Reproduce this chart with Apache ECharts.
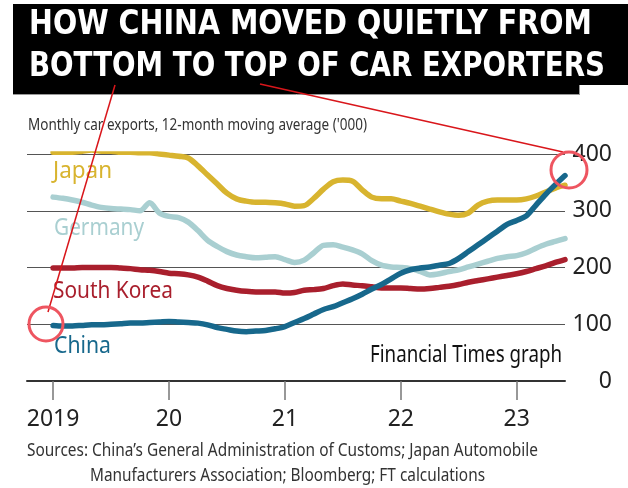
<!DOCTYPE html>
<html lang="en">
<head>
    <meta charset="UTF-8">
    <title>China car exports</title>
    <script src="https://cdn.jsdelivr.net/npm/echarts@6/dist/echarts.min.js"></script>
</head>
<body style="margin:0;background:#fff;">
<div id="main" style="width: 628px;height:488px;"></div>
</body>
<script type="text/javascript">
    // monthly values, Jan 2019 .. Jun 2023 ('000 cars, 12-month moving average)
    var japan = [403, 403, 403, 405, 407, 405, 405, 403, 403, 402, 402, 400,
        398, 396, 393, 379, 363, 347, 331, 321, 317, 315, 315, 314,
        312, 308, 309, 322, 338, 351, 354, 352, 337, 324, 321, 321,
        317, 313, 308, 303, 298, 294, 292, 296, 310, 317, 319, 319,
        319, 321, 326, 333, 340, 345];
    var germany = [324, 322, 319, 315, 310, 306, 304, 303, 302, 300, 314, 296,
        290, 288, 280, 265, 248, 237, 228, 222, 219, 217, 218, 219,
        214, 209, 213, 226, 239, 240, 236, 231, 224, 212, 204, 201,
        200, 198, 193, 187, 189, 193, 196, 201, 206, 211, 216, 219,
        221, 226, 234, 241, 246, 251];
    var southKorea = [199, 199, 199, 200, 200, 200, 200, 199, 198, 196, 195, 193,
        190, 189, 187, 183, 176, 168, 163, 160, 158, 157, 157, 157,
        155, 156, 160, 161, 163, 168, 171, 169, 168, 166, 164, 164,
        164, 163, 162, 163, 165, 167, 170, 174, 177, 180, 183, 186,
        189, 193, 198, 203, 209, 214];
    var china = [98, 97, 97, 98, 99, 99, 100, 101, 102, 102, 103, 104,
        105, 104, 103, 102, 99, 94, 91, 88, 87, 88, 89, 92,
        96, 103, 110, 118, 126, 131, 138, 145, 153, 162, 170, 180,
        190, 196, 199, 201, 204, 207, 216, 228, 240, 252, 264, 276,
        283, 291, 310, 329, 346, 362];

    // x tick labels sit on each January (month index 0, 12, 24 ...)
    var yearTicks = [0, 12, 24, 36, 48];
    var yearLabels = ['2019', '20', '21', '22', '23'];

    var seriesNames = ['Japan', 'Germany', 'South Korea', 'China'];
    var seriesColors = ['#d8b42f', '#a9cfd1', '#a91f2d', '#17688c'];
    var seriesData = [japan, germany, southKorea, china];

    var bodyFont = '"Noto Sans", "Open Sans", sans-serif';
    var titleFont = '"DejaVu Sans Condensed", "DejaVu Sans", sans-serif';

    function toPoints(arr) {
        return arr.map(function (v, i) { return [i, v]; });
    }

    // squeeze text horizontally so it fills the same width as in the picture
    var measureCtx = document.createElement('canvas').getContext('2d');
    function fitText(text, font, x, y, width, fill) {
        measureCtx.font = font;
        var w = measureCtx.measureText(text).width;
        return {
            type: 'text', x: x, y: y, scaleX: width / w, z: 10,
            style: { text: text, font: font, fill: fill, textVerticalAlign: 'middle' }
        };
    }

    var myChart = echarts.init(document.getElementById('main'));

    var option = {
        backgroundColor: '#fff',
        animation: false,
        grid: { left: 27, right: 63, top: 154, bottom: 107 },
        xAxis: {
            type: 'value',
            min: -2.7,
            max: 53,
            splitLine: { show: false },
            axisLine: { show: true, lineStyle: { color: '#333', width: 2 } },
            axisTick: {
                show: true, customValues: yearTicks, length: 19,
                lineStyle: { color: '#777', width: 1.5 }
            },
            axisLabel: {
                customValues: yearTicks,
                margin: 27,
                color: '#222',
                fontFamily: bodyFont,
                fontSize: 23,
                formatter: function (v) {
                    return yearLabels[yearTicks.indexOf(v)];
                }
            }
        },
        yAxis: {
            type: 'value',
            position: 'right',
            min: 0,
            max: 400,
            interval: 100,
            axisLine: { show: false },
            axisTick: { show: false },
            splitLine: { lineStyle: { color: '#555', width: 1 } },
            axisLabel: {
                align: 'right',
                margin: 47,
                color: '#222',
                fontFamily: bodyFont,
                fontSize: 23
            }
        },
        series: seriesNames.map(function (name, k) {
            return {
                name: name,
                type: 'line',
                data: toPoints(seriesData[k]),
                smooth: 0.3,
                showSymbol: false,
                lineStyle: { color: seriesColors[k], width: 5.5, cap: 'round' },
                z: k + 2
            };
        }),
        graphic: [
            // title block
            { type: 'rect', shape: { x: 13, y: 4, width: 615, height: 81 }, style: { fill: '#000' } },
            { type: 'rect', shape: { x: 13, y: 80, width: 566, height: 14 }, style: { fill: '#000' } },
            { type: 'line', shape: { x1: 13, y1: 94.5, x2: 580, y2: 94.5 }, style: { stroke: '#999', lineWidth: 1 } },
            { type: 'line', shape: { x1: 579.5, y1: 85, x2: 579.5, y2: 95 }, style: { stroke: '#999', lineWidth: 1 } },
            fitText('HOW CHINA MOVED QUIETLY FROM', 'bold 33px ' + titleFont, 29, 25, 563, '#fff'),
            fitText('BOTTOM TO TOP OF CAR EXPORTERS', 'bold 33px ' + titleFont, 29, 67, 576, '#fff'),
            // subtitle
            fitText("Monthly car exports, 12-month moving average ('000)", '15.5px ' + bodyFont, 28, 125.5, 339, '#333'),
            // series labels
            fitText('Japan', '24px ' + bodyFont, 53, 171, 59, seriesColors[0]),
            fitText('Germany', '24px ' + bodyFont, 54, 228, 90, seriesColors[1]),
            fitText('South Korea', '24px ' + bodyFont, 53, 291, 120, seriesColors[2]),
            fitText('China', '24px ' + bodyFont, 54, 346, 57, seriesColors[3]),
            // credit
            fitText('Financial Times graph', '23px ' + bodyFont, 370, 355, 192, '#111'),
            // sources
            fitText('Sources: China’s General Administration of Customs; Japan Automobile', '18.5px ' + bodyFont, 27, 451, 511, '#333'),
            fitText('Manufacturers Association; Bloomberg; FT calculations', '18.5px ' + bodyFont, 90, 475.5, 395, '#333'),
            // red annotations
            { type: 'line', shape: { x1: 115, y1: 85, x2: 48, y2: 312 }, style: { stroke: '#d9161b', lineWidth: 1.5 }, z: 20 },
            { type: 'line', shape: { x1: 260, y1: 84, x2: 563, y2: 152 }, style: { stroke: '#d9161b', lineWidth: 1.5 }, z: 20 },
            { type: 'circle', shape: { cx: 46, cy: 324, r: 17 }, style: { fill: 'none', stroke: '#ee5560', lineWidth: 3 }, z: 20 },
            { type: 'circle', shape: { cx: 569, cy: 170, r: 18 }, style: { fill: 'none', stroke: '#ee5560', lineWidth: 3 }, z: 20 }
        ]
    };

    myChart.setOption(option);
</script>
</html>
